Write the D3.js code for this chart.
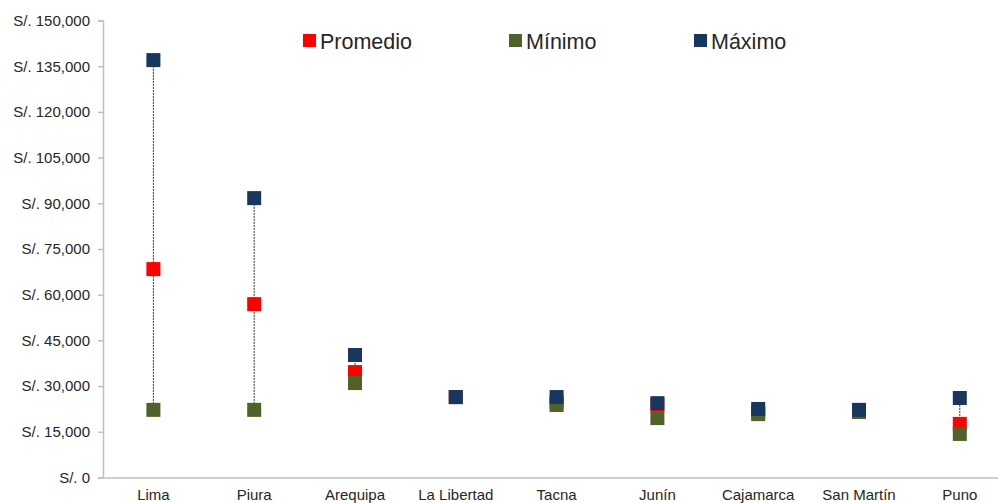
<!DOCTYPE html>
<html><head><meta charset="utf-8">
<script src="https://cdn.jsdelivr.net/npm/d3@7/dist/d3.min.js"></script>
<style>body{margin:0;background:#fff}svg{display:block;font-family:"Liberation Sans",Arial,sans-serif}</style>
</head><body><svg id="c" width="998" height="503"></svg>
<script>
const categories = ["Lima","Piura","Arequipa","La Libertad","Tacna","Junín","Cajamarca","San Martín","Puno"];
const promedio = [68400, 56900, 34600, 26400, 24800, 23900, 21500, 21700, 17600];
const minimo   = [22200, 22200, 31000, 26400, 23800, 19500, 20800, 21500, 14300];
const maximo   = [137000, 91700, 40200, 26400, 26400, 24400, 22500, 22200, 26100];
const yTicks = [0,15000,30000,45000,60000,75000,90000,105000,120000,135000,150000];
const seriesNames = ["Promedio","Mínimo","Máximo"];
const seriesColors = ["#ff0000","#4f6228","#17375e"];

const svg = d3.select("#c");
const mLeft = 103, mTop = 20.5, mBottom = 477.5;
const x = d3.scaleBand().domain(categories).range([mLeft, mLeft + 9*100.8]).paddingInner(0).paddingOuter(0);
const y = d3.scaleLinear().domain([0,150000]).range([mBottom, mTop]);

// y axis
const yAxis = svg.append("g").attr("transform",`translate(${mLeft},0)`)
  .call(d3.axisLeft(y).tickValues(yTicks).tickSize(5).tickPadding(8)
    .tickFormat(d => "S/. " + (d===0 ? "0" : d3.format(",")(d))));
yAxis.select(".domain").attr("stroke","#bfbfbf").attr("stroke-width",1.5);
yAxis.selectAll(".tick line").attr("stroke","#bfbfbf").attr("stroke-width",1.5);
yAxis.selectAll(".tick text").attr("fill","#262626").style("font-size","15px");

// x axis
const xAxis = svg.append("g").attr("transform",`translate(0,${mBottom})`)
  .call(d3.axisBottom(x).tickSize(0).tickPadding(12));
xAxis.select(".domain").attr("stroke","#bfbfbf").attr("stroke-width",1.5);
xAxis.selectAll(".tick text").attr("fill","#262626").style("font-size","15px");

// range lines
const cx = c => x(c) + x.bandwidth()/2;
svg.append("g").selectAll("line").data(categories).join("line")
  .attr("x1",cx).attr("x2",cx)
  .attr("y1",(d,i)=>y(minimo[i])).attr("y2",(d,i)=>y(maximo[i]))
  .attr("stroke","#333").attr("stroke-width",1).attr("stroke-dasharray","2,1");

// markers
const S = 14;
[promedio, minimo, maximo].forEach((vals, si) => {
  svg.append("g").selectAll("rect").data(categories).join("rect")
    .attr("x", d => cx(d) - S/2)
    .attr("y", (d,i) => y(vals[i]) - S/2)
    .attr("width", S).attr("height", S)
    .attr("fill", seriesColors[si]);
});

// legend
const legX = [303, 509, 694];
const lg = svg.append("g");
seriesNames.forEach((n,i) => {
  lg.append("rect").attr("x",legX[i]).attr("y",34).attr("width",13).attr("height",13).attr("fill",seriesColors[i]);
  lg.append("text").attr("x",legX[i]+17).attr("y",48.5).text(n)
    .attr("fill","#262626").style("font-size","21.5px");
});
</script></body></html>
